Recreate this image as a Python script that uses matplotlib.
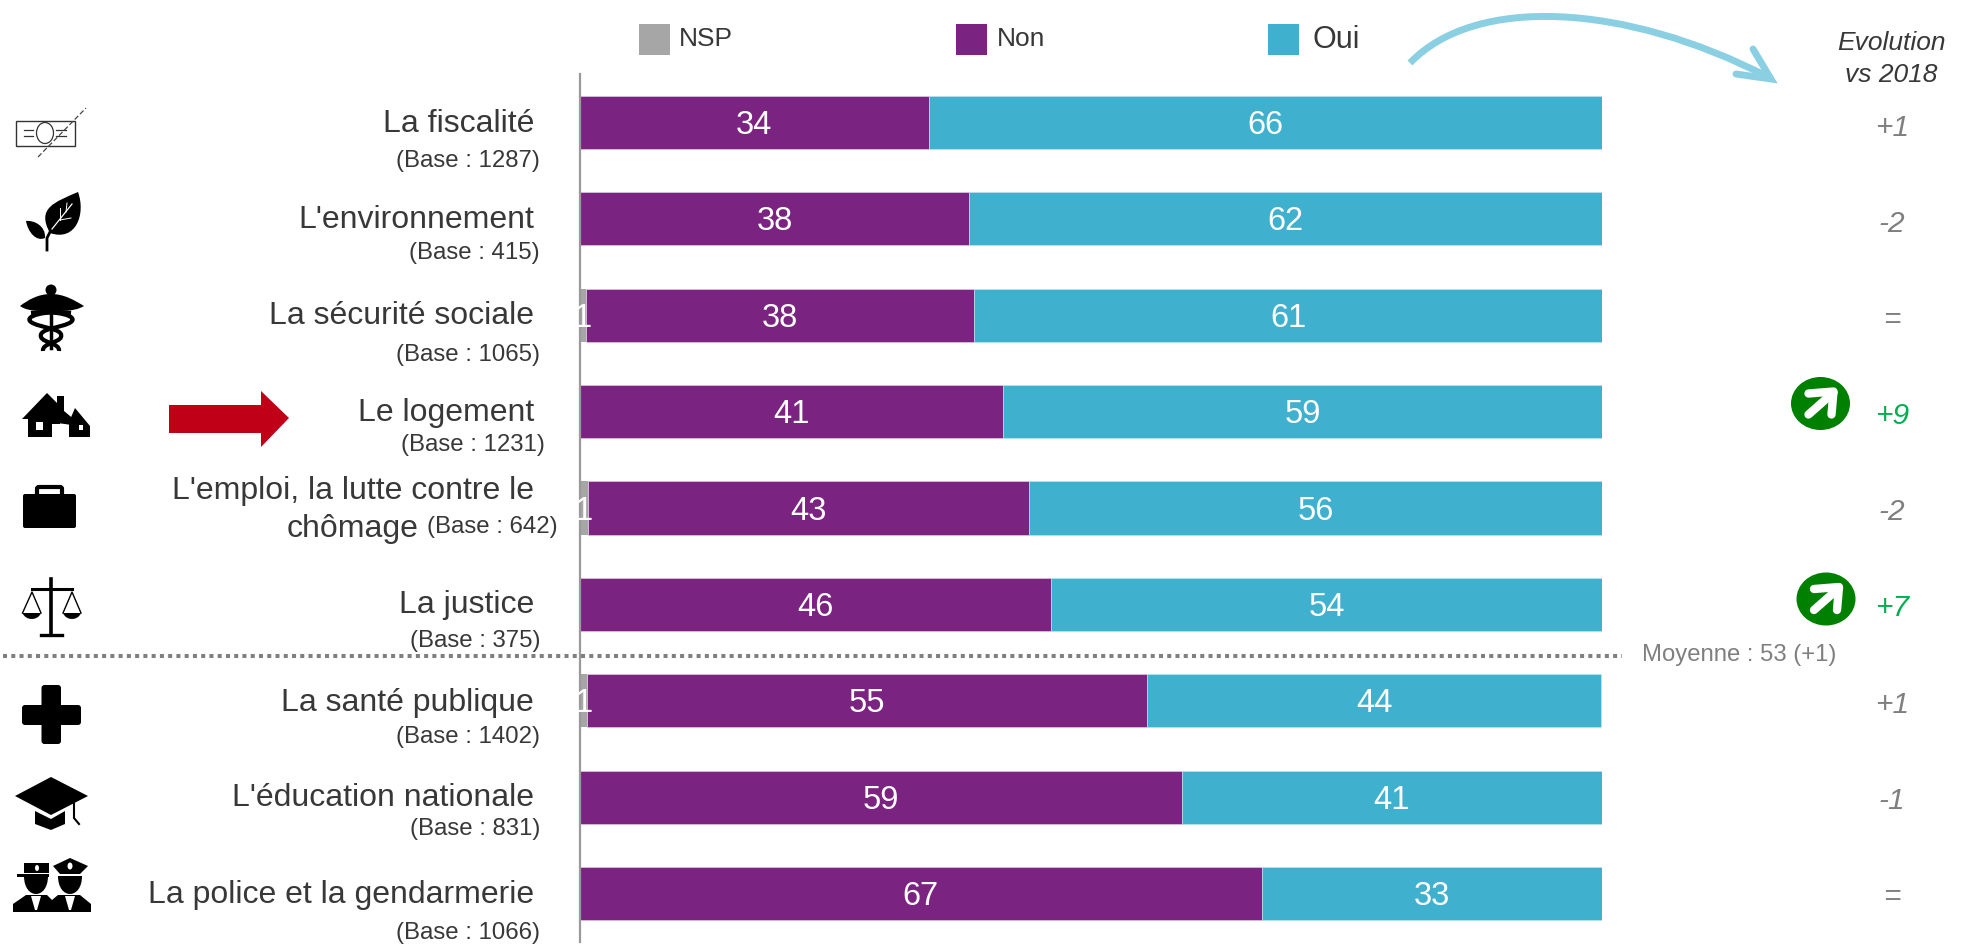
import matplotlib
matplotlib.use("Agg")
import matplotlib.pyplot as plt
from matplotlib.patches import Rectangle, Ellipse, Polygon, PathPatch, FancyBboxPatch
from matplotlib.path import Path

plt.rcParams["font.family"] = ["Liberation Sans", "DejaVu Sans"]

CATEGORIES = ["La fiscalité", "L'environnement", "La sécurité sociale", "Le logement",
              "L'emploi, la lutte contre le\nchômage", "La justice", "La santé publique",
              "L'éducation nationale", "La police et la gendarmerie"]
BASES = [1287, 415, 1065, 1231, 642, 375, 1402, 831, 1066]
NSP = [0, 0, 0.6, 0, 0.8, 0, 0.7, 0, 0]
NON = [34.1, 38.1, 38.0, 41.4, 43.1, 46.1, 54.8, 58.9, 66.7]
OUI = [65.9, 61.9, 61.4, 58.6, 56.1, 53.9, 44.4, 41.1, 33.3]
EVOLUTION = ["+1", "-2", "=", "+9", "-2", "+7", "+1", "-1", "="]
AVERAGE_LABEL = "Moyenne : 53 (+1)"

C_NSP = "#a6a6a6"
C_NON = "#7a2380"
C_OUI = "#3fb1ce"
C_TEXT = "#383838"
C_GREY = "#7f7f7f"
C_GREEN = "#00b050"

W, H = 1968, 944

# vertical centre of the label and of the base text, per row (pixels)
LABEL_Y = [121, 217, 313, 410, None, 602, 700, 795, 892]
BASE_Y = [158, 251, 352, 443, 525, 638, 735, 827, 931]
BASE_RIGHT = [540, 540, 540, 545, 558, 540, 540, 540, 540]

fig = plt.figure(figsize=(W / 100, H / 100), dpi=100)

# --- bars ---
ax = fig.add_axes([580 / W, 1 - 941.7 / H, 1022 / W, 867.4 / H])
rows = list(range(len(CATEGORIES)))
non_left = NSP
oui_left = [a + b for a, b in zip(NSP, NON)]
ax.barh(rows, NSP, height=0.55, color=C_NSP)
ax.barh(rows, NON, left=non_left, height=0.55, color=C_NON, edgecolor="#e6d9e8", linewidth=0.4)
ax.barh(rows, OUI, left=oui_left, height=0.55, color=C_OUI, edgecolor="#c5e6ef", linewidth=0.4)
ax.set_xlim(0, 100)
ax.set_ylim(8.5, -0.5)
ax.set_xticks([])
ax.set_yticks([])
for s in ["top", "right", "bottom"]:
    ax.spines[s].set_visible(False)
ax.spines["left"].set_color("#9a9a9a")
ax.spines["left"].set_linewidth(1.6)

for i in rows:
    ax.text(non_left[i] + NON[i] / 2, i - 0.005, f"{NON[i]:.0f}", color="white", fontsize=23.5,
            ha="center", va="center_baseline")
    ax.text(oui_left[i] + OUI[i] / 2, i - 0.005, f"{OUI[i]:.0f}", color="white", fontsize=23.5,
            ha="center", va="center_baseline")
    if NSP[i] > 0:
        ax.text(NSP[i] / 2, i - 0.005, f"{NSP[i]:.0f}", color="white", fontsize=23.5,
                ha="center", va="center_baseline")

# --- everything around the bars, in pixel coordinates ---
ov = fig.add_axes([0, 0, 1, 1], zorder=5)
ov.set_xlim(0, W)
ov.set_ylim(H, 0)
ov.axis("off")
ov.patch.set_alpha(0)

for i in rows:
    if LABEL_Y[i] is not None:
        ov.text(534, LABEL_Y[i], CATEGORIES[i], fontsize=23, color=C_TEXT, ha="right", va="center_baseline")
    ov.text(BASE_RIGHT[i], BASE_Y[i], f"(Base : {BASES[i]})", fontsize=17.3, color=C_TEXT,
            ha="right", va="center_baseline")
first, second = CATEGORIES[4].split("\n")
ov.text(534, 488, first, fontsize=23, color=C_TEXT, ha="right", va="center_baseline")
ov.text(419, 525, second, fontsize=23, color=C_TEXT, ha="right", va="center_baseline")

# legend
for x0, lab, tx, fs, c in [(639, "NSP", 679, 19, C_NSP), (956, "Non", 997, 19, C_NON), (1268, "Oui", 1312, 22, C_OUI)]:
    ov.add_patch(Rectangle((x0, 24), 31, 31, color=c, lw=0))
    ov.text(tx, 37, lab, fontsize=fs, color=C_TEXT, ha="left", va="center_baseline")

# evolution column
ov.text(1891, 40, "Evolution", fontsize=19, style="italic", color=C_TEXT, ha="center", va="center_baseline")
ov.text(1891, 72, "vs 2018", fontsize=19, style="italic", color=C_TEXT, ha="center", va="center_baseline")
for i in rows:
    c = C_GREEN if EVOLUTION[i] in ("+9", "+7") else C_GREY
    ov.text(1892, 125 + i * 96.1, EVOLUTION[i], fontsize=21.5, style="italic", color=c,
            ha="center", va="center_baseline")


def up_badge(cx, cy):
    ov.add_patch(Ellipse((cx, cy), 59, 53, color="#008000", lw=0))
    ov.plot([cx - 12, cx + 13], [cy + 11, cy - 11], color="white", lw=6, solid_capstyle="round")
    ov.plot([cx - 12, cx + 13, cx + 11], [cy - 10, cy - 12, cy + 11], color="white", lw=6,
            solid_capstyle="round", solid_joinstyle="round")


up_badge(1820.5, 403.5)
up_badge(1826, 599)

# average line
ov.plot([3, 1622], [656, 656], color=C_GREY, lw=2.9, linestyle=(0, (1, 1.05)), dash_capstyle="butt")
ov.text(1642, 652, AVERAGE_LABEL, fontsize=17.2, color=C_GREY, ha="left", va="center_baseline")

# curved arrow towards the evolution column
curve = Path([(1410, 63), (1475, -5), (1625, 3), (1768, 77)],
             [Path.MOVETO, Path.CURVE4, Path.CURVE4, Path.CURVE4])
ov.add_patch(PathPatch(curve, fc="none", ec="#8bd0e2", lw=5, capstyle="butt", clip_on=False))
ov.plot([1753, 1771, 1736], [49, 79, 74], color="#8bd0e2", lw=5, solid_capstyle="round",
        solid_joinstyle="miter")

# red arrow on Le logement
ov.add_patch(Polygon([(169, 405), (261, 405), (261, 391), (289, 418), (261, 447), (261, 433), (169, 433)],
                     color="#c00016", lw=0))


# --- icons ---
def black_poly(pts):
    ov.add_patch(Polygon(pts, color="black", lw=0))


def curve_patch(verts, color="black"):
    codes = [Path.MOVETO] + [Path.CURVE4] * (len(verts) - 1)
    ov.add_patch(PathPatch(Path(verts, codes), fc=color, ec="none"))


def curve_line(verts, lw):
    codes = [Path.MOVETO] + [Path.CURVE4] * (len(verts) - 1)
    ov.add_patch(PathPatch(Path(verts, codes), fc="none", ec="black", lw=lw))


def icon_money():
    ov.add_patch(Rectangle((16, 121), 59, 25, fc="white", ec="#333333", lw=1))
    ov.add_patch(Ellipse((45, 133), 17, 21, fc="none", ec="#333333", lw=0.9))
    ov.plot([24, 33], [130, 130], color="#333333", lw=0.9)
    ov.plot([24, 33], [136, 136], color="#333333", lw=0.9)
    ov.plot([56, 66], [130, 130], color="#333333", lw=0.9)
    ov.plot([56, 66], [136, 136], color="#333333", lw=0.9)
    ov.plot([38, 86], [157, 108], color="#444444", lw=0.9, linestyle=(0, (4, 2)))


def icon_leaf():
    ov.plot([47, 47, 50], [250, 238, 232], color="black", lw=2)
    curve_patch([(50, 233), (36, 208), (55, 202), (78, 192), (86, 214), (76, 242), (50, 233)])
    ov.plot([52, 72], [229, 204], color="white", lw=0.9)
    ov.plot([60, 60], [220, 208], color="white", lw=0.7)
    ov.plot([60, 71], [220, 218], color="white", lw=0.7)
    ov.plot([66, 67], [212, 203], color="white", lw=0.7)
    curve_patch([(26, 221), (34, 220), (46, 226), (45, 238), (36, 242), (28, 232), (26, 221)])


def icon_caduceus():
    cx = 51
    ov.add_patch(Ellipse((cx, 290), 11, 11, color="black", lw=0))
    ov.plot([cx, cx], [290, 348], color="black", lw=2.5)
    curve_patch([(cx, 294), (38, 294), (28, 300), (20, 306), (30, 313), (40, 309), (cx, 313)])
    curve_patch([(cx, 294), (64, 294), (74, 300), (84, 306), (72, 313), (62, 309), (cx, 313)])
    for d in [1, -1]:
        curve_line([(cx + 20 * d, 313), (cx - 5 * d, 310), (cx - 28 * d, 316), (cx - 20 * d, 322),
                    (cx - 12 * d, 328), (cx + 13 * d, 328), (cx + 10 * d, 337),
                    (cx + 8 * d, 343), (cx - 9 * d, 343), (cx - 8 * d, 351)], 3)


def icon_house():
    black_poly([(22, 419), (47, 393), (57, 403), (57, 396), (64, 396), (64, 411), (76, 421), (72, 425), (28, 419)])
    ov.add_patch(Rectangle((28, 417), 32, 20, color="black", lw=0))
    ov.add_patch(Rectangle((36, 422), 7, 8, color="white", lw=0))
    ov.add_patch(Rectangle((52, 424), 8, 13, color="white", lw=0))
    black_poly([(69, 437), (69, 422), (75, 408), (90, 426), (90, 437)])
    ov.add_patch(Rectangle((79, 425), 4, 5, color="white", lw=0))


def icon_briefcase():
    ov.add_patch(FancyBboxPatch((37, 487), 25, 10, boxstyle="round,pad=0,rounding_size=2",
                                fc="none", ec="black", lw=3))
    ov.add_patch(FancyBboxPatch((23, 494), 53, 34, boxstyle="round,pad=0,rounding_size=2", color="black", lw=0))


def icon_scales():
    ov.plot([51, 51], [579, 634], color="black", lw=2.6)
    ov.plot([32, 72], [589, 589], color="black", lw=2.2)
    ov.plot([41, 62], [635, 635], color="black", lw=2.4)
    for x, l, r in [(32, 22.5, 41), (72, 63, 81)]:
        ov.plot([l, x, r], [613, 592, 613], color="black", lw=1)
        ov.add_patch(PathPatch(Path([(l, 613), (l + 3, 621), (r - 3, 621), (r, 613), (l, 613)],
                                    [Path.MOVETO, Path.CURVE4, Path.CURVE4, Path.CURVE4, Path.CLOSEPOLY]),
                               color="black", lw=0))


def icon_cross():
    ov.add_patch(FancyBboxPatch((41.5, 685), 19.5, 59, boxstyle="round,pad=0,rounding_size=3", color="black", lw=0))
    ov.add_patch(FancyBboxPatch((22, 705), 59, 20, boxstyle="round,pad=0,rounding_size=3", color="black", lw=0))


def icon_cap():
    black_poly([(15, 796), (51, 777), (88, 796), (51, 815)])
    black_poly([(35, 811), (51, 819), (65, 811), (65, 824), (51, 830), (35, 824)])
    ov.plot([74, 74, 79], [804, 818, 824], color="black", lw=1.5)


def icon_police():
    black_poly([(13, 912), (13, 904), (26, 895), (47, 895), (52, 900), (58, 895), (80, 895), (91, 904), (91, 912)])
    for cx in [36, 70]:
        ov.add_patch(Polygon([(cx - 5, 896), (cx + 5, 896), (cx + 1, 910), (cx - 1, 910)], color="white", lw=0))
    for cx in [36, 70]:
        curve_patch([(cx - 12, 876), (cx - 12, 900), (cx + 12, 900), (cx + 12, 876)])
    ov.add_patch(Rectangle((24, 863), 25, 10, color="black", lw=0))
    ov.add_patch(Rectangle((17, 874), 32, 2.5, color="black", lw=0))
    ov.add_patch(Ellipse((37, 868), 4, 6, color="white", lw=0))
    black_poly([(53, 866), (70, 858), (88, 866), (80, 874), (60, 874)])
    ov.add_patch(Ellipse((70, 866), 5, 7, color="white", lw=0))


icon_money()
icon_leaf()
icon_caduceus()
icon_house()
icon_briefcase()
icon_scales()
icon_cross()
icon_cap()
icon_police()

fig.savefig("out.png", dpi=100)
